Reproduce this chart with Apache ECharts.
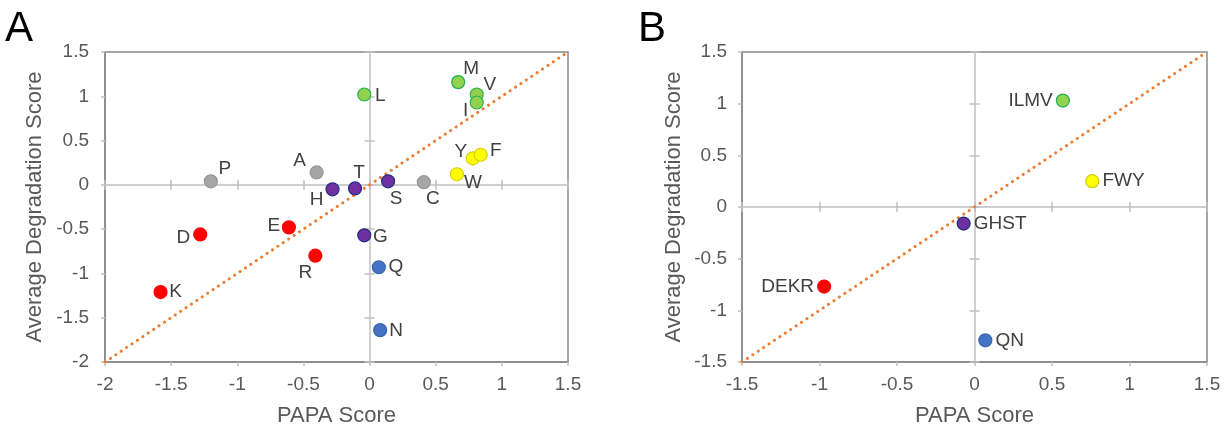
<!DOCTYPE html>
<html>
<head>
<meta charset="utf-8">
<script src="https://cdn.jsdelivr.net/npm/echarts@6/dist/echarts.min.js"></script>
<style>
html,body{margin:0;padding:0;background:#fff;}
#c{width:1229px;height:432px;}
</style>
</head>
<body>
<div id="c"></div>
<script>
// ---- Data ----
const residuesA = ['P','A','C','H','T','S','G','L','M','V','I','Y','F','W','D','E','R','K','Q','N'];
const papaA     = [-1.20,-0.40,0.41,-0.28,-0.11,0.14,-0.04,-0.04,0.67,0.81,0.81,0.78,0.84,0.66,-1.28,-0.61,-0.41,-1.58,0.07,0.08];
const degA      = [0.04,0.14,0.03,-0.05,-0.04,0.04,-0.57,1.02,1.16,1.02,0.93,0.30,0.34,0.12,-0.56,-0.48,-0.80,-1.21,-0.93,-1.64];
const groupA    = ['gray','gray','gray','purple','purple','purple','purple','green','green','green','green','yellow','yellow','yellow','red','red','red','red','blue','blue'];

const groupsB = ['ILMV','FWY','GHST','DEKR','QN'];
const papaB   = [0.57,0.76,-0.07,-0.97,0.07];
const degB    = [1.03,0.25,-0.16,-0.77,-1.29];
const colorB  = ['green','yellow','purple','red','blue'];

const ticksA = [-2,-1.5,-1,-0.5,0,0.5,1,1.5];
const ticksB = [-1.5,-1,-0.5,0,0.5,1,1.5];

// ---- Styles ----
const palette = {
  gray:   {fill:'#a6a6a6', border:'#969696'},
  purple: {fill:'#7030a0', border:'#1f2f86'},
  green:  {fill:'#92d050', border:'#22b14c'},
  yellow: {fill:'#ffff00', border:'#d8cc00'},
  red:    {fill:'#ff0000', border:'#ff0000'},
  blue:   {fill:'#4472c4', border:'#3a64b0'}
};
// label offsets (px) relative to point centre, panel A
const labelOffA = {
  P:[14,-13], A:[-17,-12], C:[9,17], H:[-16,10], T:[4,-16], S:[8,17], G:[16,1],
  L:[16,1], M:[13,-13], V:[13,-10], I:[-11,8], Y:[-12,-7], F:[15,-4], W:[16,9],
  D:[-17,3], E:[-15,-2], R:[-10,17], K:[15,0], Q:[17,0], N:[16,1]
};
const labelPosB = {ILMV:'left', FWY:'right', GHST:'right', DEKR:'left', QN:'right'};

const FONT = '"Liberation Sans", Arial, sans-serif';
const TXT = '#595959';
const FRAME = '#898989';
const ZERO = '#c0c0c0';

function axesFor(gridIndex, ticks, isX, nameGap, labelMargin) {
  const min = ticks[0], max = ticks[ticks.length-1];
  const base = {
    type:'value', gridIndex, min, max, interval:0.5,
    splitLine:{show:false}
  };
  const labelled = Object.assign({}, base, {
    position: isX ? 'bottom' : 'left',
    axisLine:{onZero:false, show:true, lineStyle:{color:FRAME, width:1.5}},
    axisTick:{show:true, inside:false, length:4, lineStyle:{color:ZERO, width:1.5}},
    axisLabel:{color:TXT, fontSize:19, fontFamily:FONT, margin:labelMargin},
    name: isX ? 'PAPA Score' : 'Average Degradation Score',
    nameLocation:'middle', nameGap: nameGap,
    nameTextStyle:{color:TXT, fontSize:22, fontFamily:FONT}
  });
  const zeroOut = Object.assign({}, base, {
    position: isX ? 'bottom' : 'left',
    axisLine:{onZero:true, show:true, lineStyle:{color:ZERO, width:1.5}},
    axisTick:{show:true, inside:false, length:5, lineStyle:{color:ZERO, width:1.5}},
    axisLabel:{show:false}
  });
  const zeroIn = Object.assign({}, base, {
    position: isX ? 'bottom' : 'left',
    axisLine:{onZero:true, show:false},
    axisTick:{show:true, inside:true, length:5, lineStyle:{color:ZERO, width:1.5}},
    axisLabel:{show:false}
  });
  return [zeroOut, zeroIn, labelled];
}

const grids = [
  {left:105, right:661, top:52, bottom:69, show:true, borderColor:FRAME, borderWidth:1.5, backgroundColor:'transparent'},
  {left:742, right:22, top:52, bottom:69, show:true, borderColor:FRAME, borderWidth:1.5, backgroundColor:'transparent'}
];

const xAxes = [].concat(axesFor(0, ticksA, true, 43, 13), axesFor(1, ticksB, true, 43, 13));
const yAxes = [].concat(axesFor(0, ticksA, false, 59, 16), axesFor(1, ticksB, false, 57, 15));

function pointA(i) {
  const st = palette[groupA[i]];
  const off = labelOffA[residuesA[i]];
  return {
    name: residuesA[i], value:[papaA[i], degA[i]],
    itemStyle:{color:st.fill, borderColor:st.border, borderWidth:1.2, opacity:1},
    label:{show:true, position:'inside', offset:off, formatter:'{b}',
      color:'#404040', fontSize:19, fontFamily:FONT}
  };
}
function pointB(i) {
  const st = palette[colorB[i]];
  return {
    name: groupsB[i], value:[papaB[i], degB[i]],
    itemStyle:{color:st.fill, borderColor:st.border, borderWidth:1.2, opacity:1},
    label:{show:true, position:labelPosB[groupsB[i]], distance:3, formatter:'{b}',
      color:'#404040', fontSize:19, fontFamily:FONT}
  };
}

const diagStyle = {color:'#ed7d31', width:3, type:[0.1,6.4], cap:'round'};

const option = {
  animation:false,
  grid: grids,
  xAxis: xAxes,
  yAxis: yAxes,
  graphic:[
    {type:'text', left:5, top:8, style:{text:'A', font:'42px '+FONT, fill:'#000'}},
    {type:'text', left:638, top:8, style:{text:'B', font:'42px '+FONT, fill:'#000'}}
  ],
  series:[
    {type:'line', xAxisIndex:2, yAxisIndex:2, data:[[ticksA[0],ticksA[0]],[ticksA[ticksA.length-1],ticksA[ticksA.length-1]]],
      showSymbol:false, symbol:'none', lineStyle:diagStyle, silent:true, z:1},
    {type:'scatter', xAxisIndex:2, yAxisIndex:2, symbolSize:13, z:3,
      itemStyle:{opacity:1},
      data: residuesA.map((_, i) => pointA(i))},
    {type:'line', xAxisIndex:5, yAxisIndex:5, data:[[ticksB[0],ticksB[0]],[ticksB[ticksB.length-1],ticksB[ticksB.length-1]]],
      showSymbol:false, symbol:'none', lineStyle:diagStyle, silent:true, z:1},
    {type:'scatter', xAxisIndex:5, yAxisIndex:5, symbolSize:13, z:3,
      itemStyle:{opacity:1},
      data: groupsB.map((_, i) => pointB(i))}
  ]
};

const chart = echarts.init(document.getElementById('c'), null, {renderer:'canvas'});
chart.setOption(option);
</script>
</body>
</html>
